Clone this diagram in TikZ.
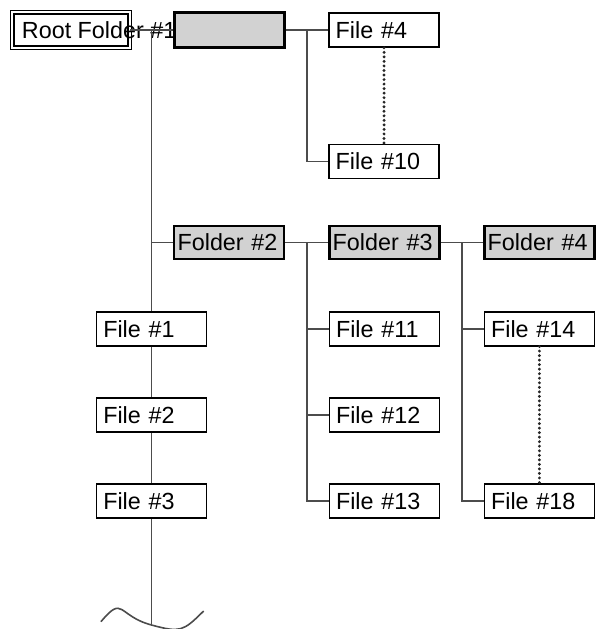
\documentclass[tikz,border=0pt]{standalone}
\usepackage{fontspec}
\setmainfont{Liberation Sans}
\usetikzlibrary{arrows}
\usetikzlibrary{calc}
\usetikzlibrary{positioning}
\usetikzlibrary{shapes}

\begin{document}
\begin{tikzpicture}[node distance=38pt and 32pt,
    every node/.style={font=\fontsize{17.5}{20}\selectfont},
    filebox/.style={draw,line width=1.2pt,fill=white,minimum height=25.5pt,text width=72.5pt,inner xsep=5pt,align=left},
    folderbox/.style={draw,line width=1.8pt,fill=gray!35,minimum height=24.75pt,text width=77.5pt,inner xsep=2.5pt,align=left},
    rootbox/.style={draw,double,line width=1pt,double distance=1.5pt,minimum height=26.5pt,inner xsep=7.3pt},
    link/.style={draw=black!70,line width=1.2pt},
    dotline/.style={draw=black!85,line width=2.4pt,line cap=round,dash pattern=on 0pt off 3.4pt}]
          \useasboundingbox (-53.2pt,22.5pt) rectangle (395.3pt,-449.25pt);
          \node[rootbox] (root) {\makebox[73.4pt][l]{Root Folder \#1}};
          \node[folderbox,right=of root,minimum height=26.25pt,line width=2pt] (blank) {};
          \node[filebox,right=of blank] (file4) {File \#4};
          \node[filebox,below=72pt of file4] (file10) {File \#10};
          \node[folderbox,below=132pt of blank] (folder2) {Folder \#2};
          \node[folderbox,right=of folder2] (folder3) {Folder \#3};
          \node[folderbox,right=of folder3] (folder4) {Folder \#4};
          \node[filebox,below=of folder3] (file11) {File \#11};
          \node[filebox,below=of file11] (file12) {File \#12};
          \node[filebox,below=of file12] (file13) {File \#13};
          \node[filebox,below=of folder4] (file14) {File \#14};
          \node[filebox] (file18) at (folder4 |- file13) {File \#18};
          \coordinate (trunk) at ($(root.east)!0.5!(blank.west)$);
          \node[filebox] (file1) at (trunk |- file11) {File \#1};
          \node[filebox,below=of file1] (file2) {File \#2};
          \node[filebox,below=of file2] (file3) {File \#3};
          \coordinate[below=79.5pt of file3.south] (tail);
          \coordinate (wl) at ($(tail)+(-38pt,2.5pt)$);
          \coordinate (wr) at ($(tail)+(39pt,10.5pt)$);
          \coordinate (fork1) at ($(blank.east)!0.5!(file4.west)$);
          \coordinate (fork2) at ($(folder2.east)!0.5!(folder3.west)$);
          \coordinate (fork3) at ($(folder3.east)!0.5!(folder4.west)$);
          % main trunk
          \draw[link] (root.east) -- (blank.west);
          \draw[link] (trunk) -- (file1.north);
          \draw[link] (trunk |- folder2) -- (folder2.west);
          \draw[link] (file1) -- (file2);
          \draw[link] (file2) -- (file3);
          \draw[link] (file3) -- (tail);
          \draw[link] (wl) to[out=50,in=165,looseness=1.8] (tail) to[out=-15,in=225,looseness=1.4] (wr);
          % branches
          \draw[link] (blank.east) -- (file4.west);
          \draw[link] (fork1) |- (file10.west);
          \draw[dotline] (file4) -- (file10);
          \draw[link] (folder2) -- (folder3);
          \draw[link] (folder3) -- (folder4);
          \draw[link] (fork2) |- (file13.west);
          \draw[link] (fork2 |- file11) -- (file11.west);
          \draw[link] (fork2 |- file12) -- (file12.west);
          \draw[link] (fork3) |- (file18.west);
          \draw[link] (fork3 |- file14) -- (file14.west);
          \draw[dotline] (file14) -- (file18);
        \end{tikzpicture}
\end{document}
